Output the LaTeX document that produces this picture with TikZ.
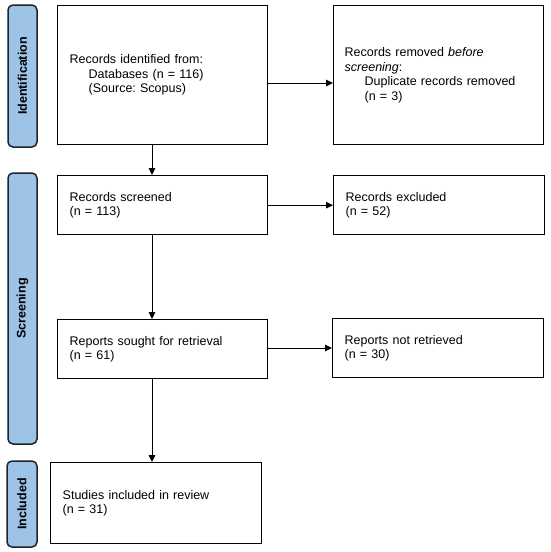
\documentclass[tikz,border=0pt]{standalone}
\usepackage{fontspec}
\setmainfont{Liberation Sans}
\frenchspacing
\usetikzlibrary{arrows.meta,positioning}
\definecolor{barblue}{RGB}{157,195,230}
\definecolor{barline}{RGB}{30,36,44}
\begin{document}
\begin{tikzpicture}[x=1pt,y=-1pt,
  stagebar/.style={draw=barline,line width=1.5pt,fill=barblue,rounded corners=5pt,inner sep=0pt},
  barlabel/.style={rotate=90,font=\fontsize{12.5}{14}\selectfont\bfseries},
  flowbox/.style={draw=black,line width=1.4pt,anchor=north west,inner xsep=12pt,inner ysep=0pt,
    align=left,font=\frenchspacing\fontsize{12.5}{14.5}\selectfont},
  arr/.style={line width=1pt,-{Triangle[length=7pt,width=6.5pt]}}]
\useasboundingbox (0,0) rectangle (550,552);
% stage bars
\draw[stagebar] (8,5) rectangle (37,147);
\node[barlabel] (idl) at (22.5,76) {Identification};
\draw[stagebar] (8,173) rectangle (37,444);
\node[barlabel] (scl) at (22.5,308.5) {Screening};
\draw[stagebar] (7,461) rectangle (37,547);
\node[barlabel] (inl) at (22,504) {Included};
% boxes
\node[flowbox,text width=186pt,minimum height=139pt] (b1) at (57,5)
  {Records identified from:\\\hspace*{19pt}Databases (n = 116)\\\hspace*{19pt}(Source: Scopus)};
\node[flowbox,text width=188pt,minimum height=139pt,inner xsep=11pt] (r1) at (333,5)
  {Records removed \textit{before}\\\textit{screening}:\\\hspace*{20pt}Duplicate records removed\\\hspace*{20pt}(n = 3)};
\node[flowbox,text width=186pt,minimum height=59pt] (b2) at (57,175)
  {Records screened\\(n = 113)};
\node[flowbox,text width=187pt,minimum height=59pt] (r2) at (333,175)
  {Records excluded\\(n = 52)};
\node[flowbox,text width=186pt,minimum height=59pt] (b3) at (57,319)
  {Reports sought for retrieval\\(n = 61)};
\node[flowbox,text width=187pt,minimum height=59pt] (r3) at (332,318)
  {Reports not retrieved\\(n = 30)};
\node[flowbox,text width=187pt,minimum height=81pt] (b4) at (50,462)
  {Studies included in review\\(n = 31)\\[12pt]};
% helper coordinates
\coordinate (col) at (152,0);
\coordinate (rowa) at (0,83);
\coordinate (rowc) at (0,348);
% connectors
\draw[arr] (b1.south -| col) -- (b2.north -| col);
\draw[arr] (b2.south -| col) -- (b3.north -| col);
\draw[arr] (b3.south -| col) -- (b4.north -| col);
\draw[arr] (b1.east |- rowa) -- (r1.west |- rowa);
\draw[arr] (b2.east) -- (r2.west);
\draw[arr] (b3.east |- rowc) -- (r3.west |- rowc);
\end{tikzpicture}
\end{document}
